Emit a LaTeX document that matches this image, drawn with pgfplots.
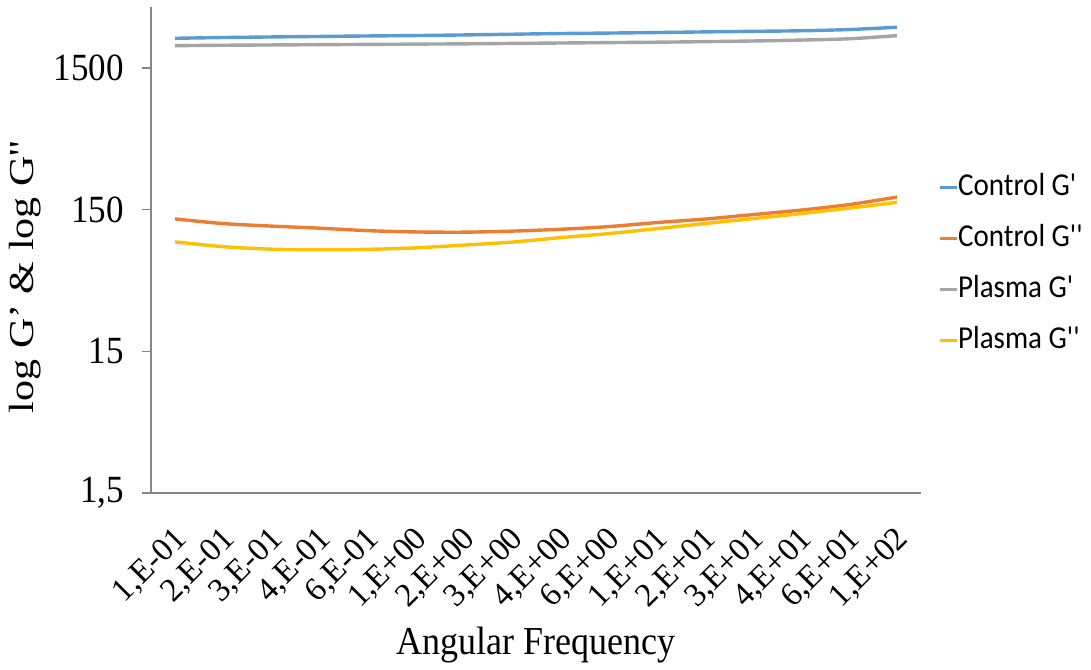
\documentclass[border=0pt]{standalone}
\usepackage{pgfplots}
\pgfplotsset{compat=1.18}
\usepackage{fontspec}
\usepackage{graphicx}
\setmainfont{Liberation Serif}
\newfontfamily\timesplain{Liberation Serif}
\newfontfamily\carlito{Carlito}
\definecolor{cblue}{HTML}{5B9BD5}
\definecolor{corange}{HTML}{ED7D31}
\definecolor{cgray}{HTML}{A5A5A5}
\definecolor{cyellow}{HTML}{FFC000}
\definecolor{axisgray}{HTML}{868686}
\newcommand\ticksz{\timesplain\fontsize{35bp}{40bp}\selectfont}
\newcommand\labsz{\timesplain\fontsize{36bp}{40bp}\selectfont}
\newcommand\xticksz{\timesplain\fontsize{33bp}{36bp}\selectfont}
\newcommand\vs[1]{\scalebox{1}[1.1]{#1}}
\newcommand\ls[1]{\scalebox{1}[1.1]{#1}}
\pgfplotstableread{
x cg cgg pg pgg
0 2430 129.0 2155 88.8
1 2460 119.6 2170 82.2
2 2483 114.8 2180 78.9
3 2503 111.0 2190 78.3
4 2523 106.6 2200 78.7
5 2540 104.4 2210 80.6
6 2565 104.0 2220 84.3
7 2595 105.8 2235 88.5
8 2625 109.0 2250 95.1
9 2645 113.8 2265 101.6
10 2667 121.5 2280 110.0
11 2695 128.6 2300 119.6
12 2720 138.3 2325 129.6
13 2745 148.8 2360 140.6
14 2800 162.7 2410 153.7
15 2907 184.0 2535 168.9
}\datatable
\begin{document}
\begin{tikzpicture}
\begin{axis}[
 scale only axis, width=770bp, height=486bp,
 xmin=-0.5, xmax=15.5, ymode=log, ymin=1.5, ymax=4040,
 axis x line=bottom, axis y line=left,
 axis line style={-, draw=axisgray, line width=1.3bp},
 xtick={0,...,15},
 xticklabels={{1,E-01},{2,E-01},{3,E-01},{4,E-01},{6,E-01},{1,E+00},{2,E+00},{3,E+00},{4,E+00},{6,E+00},{1,E+01},{2,E+01},{3,E+01},{4,E+01},{6,E+01},{1,E+02}},
 xtick style={draw=none},
 ytick={1.5,15,150,1500},
 yticklabels={{\vs{1,5}},{\vs{15}},{\vs{150}},{\vs{1500}}},
 yminorticks=false,
 tick align=outside, major tick length=9bp,
 ytick style={draw=axisgray, line width=1.3bp},
 yticklabel style={font=\ticksz, inner sep=0pt, xshift=-18bp},
 xticklabel style={font=\xticksz, rotate=45, anchor=north east, inner sep=0pt, xshift=-18bp, yshift=-14bp},
 xlabel={\vs{Angular Frequency}},
 xlabel style={at={(axis description cs:0.5,-0.313)}, anchor=center, font=\labsz},
 ylabel={\scalebox{1.2}[1]{log G’ \& log G''}},
 ylabel style={at={(axis description cs:-0.1636,0.444)}, anchor=center, font=\ticksz},
 legend style={at={(rel axis cs:1.022,0.469)}, anchor=west, draw=none, fill=none,
   font=\carlito\fontsize{29bp}{30bp}\selectfont, row sep=25bp, inner sep=0pt,
   nodes={inner sep=0pt, text height=20bp, text depth=6bp},
   /tikz/every even column/.append style={column sep=0bp}},
 legend cell align=left,
 legend image code/.code={\draw[#1, line width=3bp] (0bp,1bp) -- (17bp,1bp);},
 every axis plot/.append style={line width=3.4bp, smooth},
 clip=false,
]
\addplot[cblue] table[x=x,y=cg] {\datatable};
\addlegendentry{\ls{Control G'}}
\addplot[corange] table[x=x,y=cgg] {\datatable};
\addlegendentry{\ls{Control G''}}
\addplot[cgray] table[x=x,y=pg] {\datatable};
\addlegendentry{\ls{Plasma G'}}
\addplot[cyellow] table[x=x,y=pgg] {\datatable};
\addlegendentry{\ls{Plasma G''}}
\coordinate (O) at (rel axis cs:0,0);
\end{axis}
\pgfresetboundingbox
\path (O) ++(-151bp,-177bp) rectangle ++(1091bp,670bp);
\end{tikzpicture}
\end{document}
